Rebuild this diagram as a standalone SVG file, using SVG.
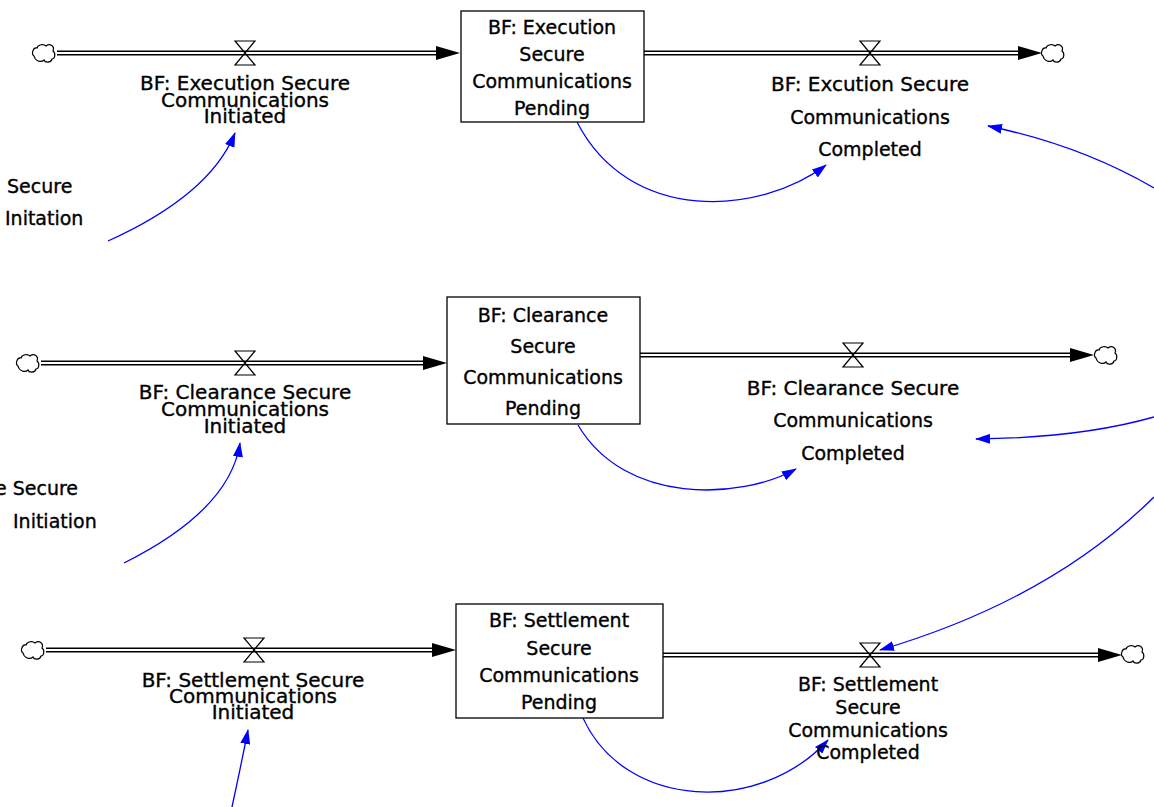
<svg xmlns="http://www.w3.org/2000/svg" xmlns:xlink="http://www.w3.org/1999/xlink" width="1154" height="807" viewBox="0 0 1154 807">
<style>
.t{font-family:"DejaVu Sans","Liberation Sans",sans-serif;font-size:19px;fill:#000;stroke:#000;stroke-width:0.35;text-anchor:middle}
.tf{font-family:"DejaVu Sans","Liberation Sans",sans-serif;font-size:20px;fill:#000;stroke:#000;stroke-width:0.35;text-anchor:middle}
.ts{font-family:"DejaVu Sans","Liberation Sans",sans-serif;font-size:19px;fill:#000;stroke:#000;stroke-width:0.35;text-anchor:start}
.box{fill:#fff;stroke:#000;stroke-width:1.3}
.po{stroke:#000;stroke-width:5;fill:none}
.pi{stroke:#fff;stroke-width:2;fill:none}
.ah{fill:#000}
.valve{fill:none;stroke:#000;stroke-width:1.2}
.cloud{fill:#fff;stroke:#000;stroke-width:1.2}
.link{fill:none;stroke:#0000ff;stroke-width:1.3;marker-end:url(#blue)}
</style>
<defs>
<marker id="blue" markerUnits="userSpaceOnUse" markerWidth="15" markerHeight="10" refX="14" refY="5" orient="auto">
<path d="M0,0 L15,5 L0,10 Z" fill="#0000ff"/>
</marker>
<path id="cl" class="cloud" d="M-10,3 C-13,1 -11,-6 -7,-5 C-6,-9 0,-9 2,-7 C6,-10 11,-7 9,-2 C12,0 11,6 8,6 C7,10 1,10 0,7 C-3,10 -9,8 -10,3 Z"/>
<path id="vv" class="valve" d="M-10,-12 L10,-12 L-10,12 L10,12 Z"/>
</defs>
<rect width="1154" height="807" fill="#fff"/>

<g id="connectors">
<path class="po" d="M57,53 H438"/><path class="pi" d="M57,53 H438"/>
<polygon class="ah" points="436,46 460,53 436,60"/>
<path class="po" d="M644,53 H1020"/><path class="pi" d="M644,53 H1020"/>
<polygon class="ah" points="1018,46 1042,53 1018,60"/>
<path class="po" d="M41,363 H425"/><path class="pi" d="M41,363 H425"/>
<polygon class="ah" points="423,356 447,363 423,370"/>
<path class="po" d="M640,355 H1072"/><path class="pi" d="M640,355 H1072"/>
<polygon class="ah" points="1070,348 1094,355 1070,362"/>
<path class="po" d="M46,650 H434"/><path class="pi" d="M46,650 H434"/>
<polygon class="ah" points="432,643 456,650 432,657"/>
<path class="po" d="M663,655 H1100"/><path class="pi" d="M663,655 H1100"/>
<polygon class="ah" points="1098,648 1122,655 1098,662"/>
<path class="link" d="M108,241 Q210,195 235,133"/>
<path class="link" d="M577,122 C630,225 760,215 826,165"/>
<path class="link" d="M1154,188 Q1080,145 988,126"/>
<path class="link" d="M124,563 Q230,510 240,443"/>
<path class="link" d="M578,425 C625,505 740,500 796,469"/>
<path class="link" d="M1154,417 Q1080,438 976,439"/>
<path class="link" d="M1154,497 Q1050,600 880,650"/>
<path class="link" d="M232,807 Q240,770 248,730"/>
<path class="link" d="M583,718 C625,810 760,815 828,740"/>
</g>

<g id="cloud-src-1"><use xlink:href="#cl" x="44" y="53"/></g>
<g id="cloud-sink-1"><use xlink:href="#cl" x="1053" y="53"/></g>
<g id="cloud-src-2"><use xlink:href="#cl" x="28" y="363"/></g>
<g id="cloud-sink-2"><use xlink:href="#cl" x="1106" y="355"/></g>
<g id="cloud-src-3"><use xlink:href="#cl" x="33" y="650"/></g>
<g id="cloud-sink-3"><use xlink:href="#cl" x="1133" y="654"/></g>

<g id="exec-initiated">
<use xlink:href="#vv" x="245" y="53"/>
<text class="tf" x="245" y="90">BF: Execution Secure</text>
<text class="tf" x="245" y="107">Communications</text>
<text class="tf" x="245" y="123">Initiated</text>
</g>
<g id="exec-pending">
<rect class="box" x="461" y="11" width="183" height="111"/>
<text class="t" x="552" y="34">BF: Execution</text>
<text class="t" x="552" y="61">Secure</text>
<text class="t" x="552" y="88">Communications</text>
<text class="t" x="552" y="115">Pending</text>
</g>
<g id="exec-completed">
<use xlink:href="#vv" x="870" y="53"/>
<text class="tf" x="870" y="91">BF: Excution Secure</text>
<text class="t" x="870" y="124">Communications</text>
<text class="t" x="870" y="156">Completed</text>
</g>
<g id="exec-initiation">
<text class="ts" x="7" y="193">Secure</text>
<text class="ts" x="5" y="225">Initation</text>
</g>

<g id="clear-initiated">
<use xlink:href="#vv" x="245" y="363"/>
<text class="tf" x="245" y="399">BF: Clearance Secure</text>
<text class="tf" x="245" y="416">Communications</text>
<text class="tf" x="245" y="433">Initiated</text>
</g>
<g id="clear-pending">
<rect class="box" x="447" y="297" width="193" height="127"/>
<text class="t" x="543" y="322">BF: Clearance</text>
<text class="t" x="543" y="353">Secure</text>
<text class="t" x="543" y="384">Communications</text>
<text class="t" x="543" y="415">Pending</text>
</g>
<g id="clear-completed">
<use xlink:href="#vv" x="853" y="355"/>
<text class="tf" x="853" y="395">BF: Clearance Secure</text>
<text class="t" x="853" y="427">Communications</text>
<text class="t" x="853" y="460">Completed</text>
</g>
<g id="clear-initiation">
<text class="ts" x="-5" y="495">e Secure</text>
<text class="ts" x="13" y="528">Initiation</text>
</g>

<g id="settle-initiated">
<use xlink:href="#vv" x="254" y="650"/>
<text class="tf" x="253" y="687">BF: Settlement Secure</text>
<text class="tf" x="253" y="703">Communications</text>
<text class="tf" x="253" y="719">Initiated</text>
</g>
<g id="settle-pending">
<rect class="box" x="456" y="604" width="207" height="114"/>
<text class="t" x="559" y="627">BF: Settlement</text>
<text class="t" x="559" y="655">Secure</text>
<text class="t" x="559" y="682">Communications</text>
<text class="t" x="559" y="709">Pending</text>
</g>
<g id="settle-completed">
<use xlink:href="#vv" x="870" y="655"/>
<text class="t" x="868" y="691">BF: Settlement</text>
<text class="t" x="868" y="714">Secure</text>
<text class="t" x="868" y="737">Communications</text>
<text class="t" x="868" y="759">Completed</text>
</g>
</svg>
